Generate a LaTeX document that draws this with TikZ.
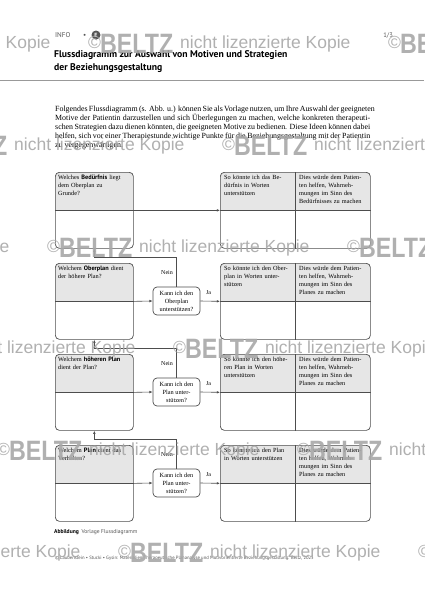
\documentclass[tikz,border=0pt]{standalone}
\usepackage{fontspec}
\setmainfont{Liberation Serif}
\newfontfamily\sansf{PT Sans}
\newfontfamily\wmfont{Liberation Sans}
\usetikzlibrary{arrows.meta}
\definecolor{boxgray}{HTML}{E6E6E6}
\definecolor{linec}{HTML}{4D4D4D}
\definecolor{wmc}{HTML}{A8A8A8}
\definecolor{hdr}{HTML}{555555}
\tikzset{
  box/.style={draw=linec, line width=0.7pt, rounded corners=4pt, inner sep=0pt},
  txt/.style={font=\fontsize{6.3}{7.9}\selectfont, align=left, anchor=north west, inner sep=0pt},
  conn/.style={draw=linec, line width=0.6pt},
  arr/.style={conn, -{Latex[length=3.2pt,width=2.6pt]}},
  decision/.style={draw=linec, line width=0.7pt, rounded corners=4pt, fill=white,
    minimum width=47pt, minimum height=28pt, inner sep=0pt, align=center,
    font=\fontsize{6.3}{7.9}\selectfont},
  lbl/.style={font=\fontsize{6}{7}\selectfont, inner sep=0pt},
  wmstyle/.style={font=\wmfont\fontsize{17.5}{18}\selectfont, text=wmc, inner sep=0pt, text opacity=0.9},
  wmbold/.style={font=\wmfont\bfseries\fontsize{28}{28}\selectfont, text=wmc, inner sep=0pt, text opacity=0.9},
}
\newcommand\myrow[5]{% index, top, left text, right text 1, right text 2
  \begin{scope}
    \clip[rounded corners=4pt] (55,#2) rectangle (133,#2+76);
    \fill[boxgray] (55,#2) rectangle (133,#2+38);
  \end{scope}
  \begin{scope}
    \clip[rounded corners=4pt] (220,#2) rectangle (370,#2+76);
    \fill[boxgray] (220,#2) rectangle (370,#2+38);
  \end{scope}
  \node[box, minimum width=78pt, minimum height=76pt, anchor=north west] (L#1) at (55,#2) {};
  \node[box, minimum width=150pt, minimum height=76pt, anchor=north west] (R#1) at (220,#2) {};
  \draw[conn] (L#1.west) -- (L#1.east);
  \draw[conn] (R#1.west) -- (R#1.east);
  \draw[conn] (R#1.north west -| 295,0) -- (R#1.south west -| 295,0);
  \node[txt, text width=72pt] (LT#1) at (58,#2+3) {#3};
  \node[txt, text width=68pt] (RA#1) at (224,#2+3) {#4};
  \node[txt, text width=68pt] (RB#1) at (299,#2+3) {#5};
}
\newcommand\mydec[4]{% index, top, decision text, previous index
  \node[decision] (D#1) at (176.5,#2+38) {#3};
  \draw[arr] (L#1.east) -- (D#1.west);
  \draw[arr] (D#1.east) -- (R#1.west);
  \coordinate (N#1) at (0,#2-6);
  \draw[arr] (D#1.north) -- (D#1.north |- N#1) -| (L#4.south);
  \node[lbl] (NL#1) at (167,#2+10) {Nein};
  \node[lbl] (JL#1) at (208.5,#2+30) {Ja};
}
\newcommand\wmark[3]{% name, x0, baseline
  \node[wmstyle, anchor=base west] (#1a) at (#2,#3) {©};
  \node[wmbold, anchor=base west] (#1b) at (#2+12,#3+5) {\scalebox{0.83}[1]{BELTZ}};
  \node[wmstyle, anchor=base west] (#1c) at (#2+92,#3) {nicht lizenzierte Kopie};
}
\newcommand\wmrow[3]{% name, x0, baseline
  \wmark{#1l}{#2-300}{#3}
  \wmark{#1m}{#2}{#3}
  \wmark{#1r}{#2+300}{#3}
}
\begin{document}
\begin{tikzpicture}[x=1pt,y=-1pt]
\useasboundingbox (0,0) rectangle (424,600);
\fill[white] (0,0) rectangle (424,600);

% header
\node[anchor=base west, font=\sansf\fontsize{7}{8}\selectfont, text=hdr, inner sep=0pt] (info) at (55,37) {INFO};
\node[anchor=base west, font=\sansf\fontsize{7}{8}\selectfont, text=hdr, inner sep=0pt] (dot) at (83,37) {•};
\node[circle, fill=hdr, minimum size=9pt, inner sep=0pt, text=white, font=\sansf\bfseries\fontsize{6}{6}\selectfont] (ebadge) at (96,35) {E};
\node[anchor=base east, font=\sansf\fontsize{6.5}{7}\selectfont, text=hdr, inner sep=0pt] (page) at (393,37) {1/3};
\node[anchor=base west, font=\sansf\bfseries\fontsize{9.7}{12}\selectfont, inner sep=0pt] (title1) at (54,57) {Flussdiagramm zur Auswahl von Motiven und Strategien};
\node[anchor=base west, font=\sansf\bfseries\fontsize{9.7}{12}\selectfont, inner sep=0pt] (title2) at (54,70.5) {der Beziehungsgestaltung};
\draw[draw=gray!80, line width=0.9pt] (0,80) -- (424,80);

% paragraph
\node[anchor=north west, inner sep=0pt, align=left, font=\fontsize{7.9}{9.2}\selectfont] (para) at (55,105.5) {%
\makebox[315pt][s]{Folgendes Flussdiagramm (s. Abb. u.) können Sie als Vorlage nutzen, um Ihre Auswahl der geeigneten}\\
\makebox[315pt][s]{Motive der Patientin darzustellen und sich Überlegungen zu machen, welche konkreten therapeuti-}\\
\makebox[315pt][s]{schen Strategien dazu dienen könnten, die geeigneten Motive zu bedienen. Diese Ideen können dabei}\\
\makebox[315pt][s]{helfen, sich vor einer Therapiestunde wichtige Punkte für die Beziehungsgestaltung mit der Patientin}\\
zu vergegenwärtigen.};

% flowchart rows
\myrow{1}{172}{Welches {\sansf\bfseries Bedürfnis} liegt\\dem Oberplan zu\\Grunde?}{So könnte ich das Be-\\dürfnis in Worten\\unterstützen}{Dies würde dem Patien-\\ten helfen, Wahrneh-\\mungen im Sinn des\\Bedürfnisses zu machen}
\draw[arr] (L1.east) -- (R1.west);

\myrow{2}{263}{Welchem {\sansf\bfseries Oberplan} dient\\der höhere Plan?}{So könnte ich den Ober-\\plan in Worten unter-\\stützen}{Dies würde dem Patien-\\ten helfen, Wahrneh-\\mungen im Sinn des\\Planes zu machen}
\mydec{2}{263}{Kann ich den\\Oberplan\\unterstützen?}{1}

\myrow{3}{354}{Welchem {\sansf\bfseries höheren Plan}\\dient der Plan?}{So könnte ich den höhe-\\ren Plan in Worten\\unterstützen}{Dies würde dem Patien-\\ten helfen, Wahrneh-\\mungen im Sinn des\\Planes zu machen}
\mydec{3}{354}{Kann ich den\\Plan unter-\\stützen?}{2}

\myrow{4}{445}{Welchem {\sansf\bfseries Plan} dient das\\Verhalten?}{So könnte ich den Plan\\in Worten unterstützen}{Dies würde dem Patien-\\ten helfen, Wahrneh-\\mungen im Sinn des\\Planes zu machen}
\mydec{4}{445}{Kann ich den\\Plan unter-\\stützen?}{3}

% caption and footer
\node[anchor=base west, inner sep=0pt, font=\sansf\fontsize{5.6}{7}\selectfont] (cap) at (54,533) {{\bfseries Abbildung}\enspace\textcolor{hdr}{Vorlage Flussdiagramm}};
\node[anchor=base west, inner sep=0pt, font=\sansf\fontsize{4.7}{6}\selectfont, text=hdr] (foot) at (55,559) {© Laubenstein • Stucki • Gysin: Materialien Therapeutische Plananalyse und Motivorientierte Beziehungsgestaltung. Beltz, 2025};

% watermark
\wmrow{wa}{88}{48}
\wmrow{wb}{222}{150}
\wmrow{wc}{47}{252}
\wmrow{wd}{173}{353}
\wmrow{we}{-3}{455}
\wmrow{wf}{118}{557}
\end{tikzpicture}
\end{document}
